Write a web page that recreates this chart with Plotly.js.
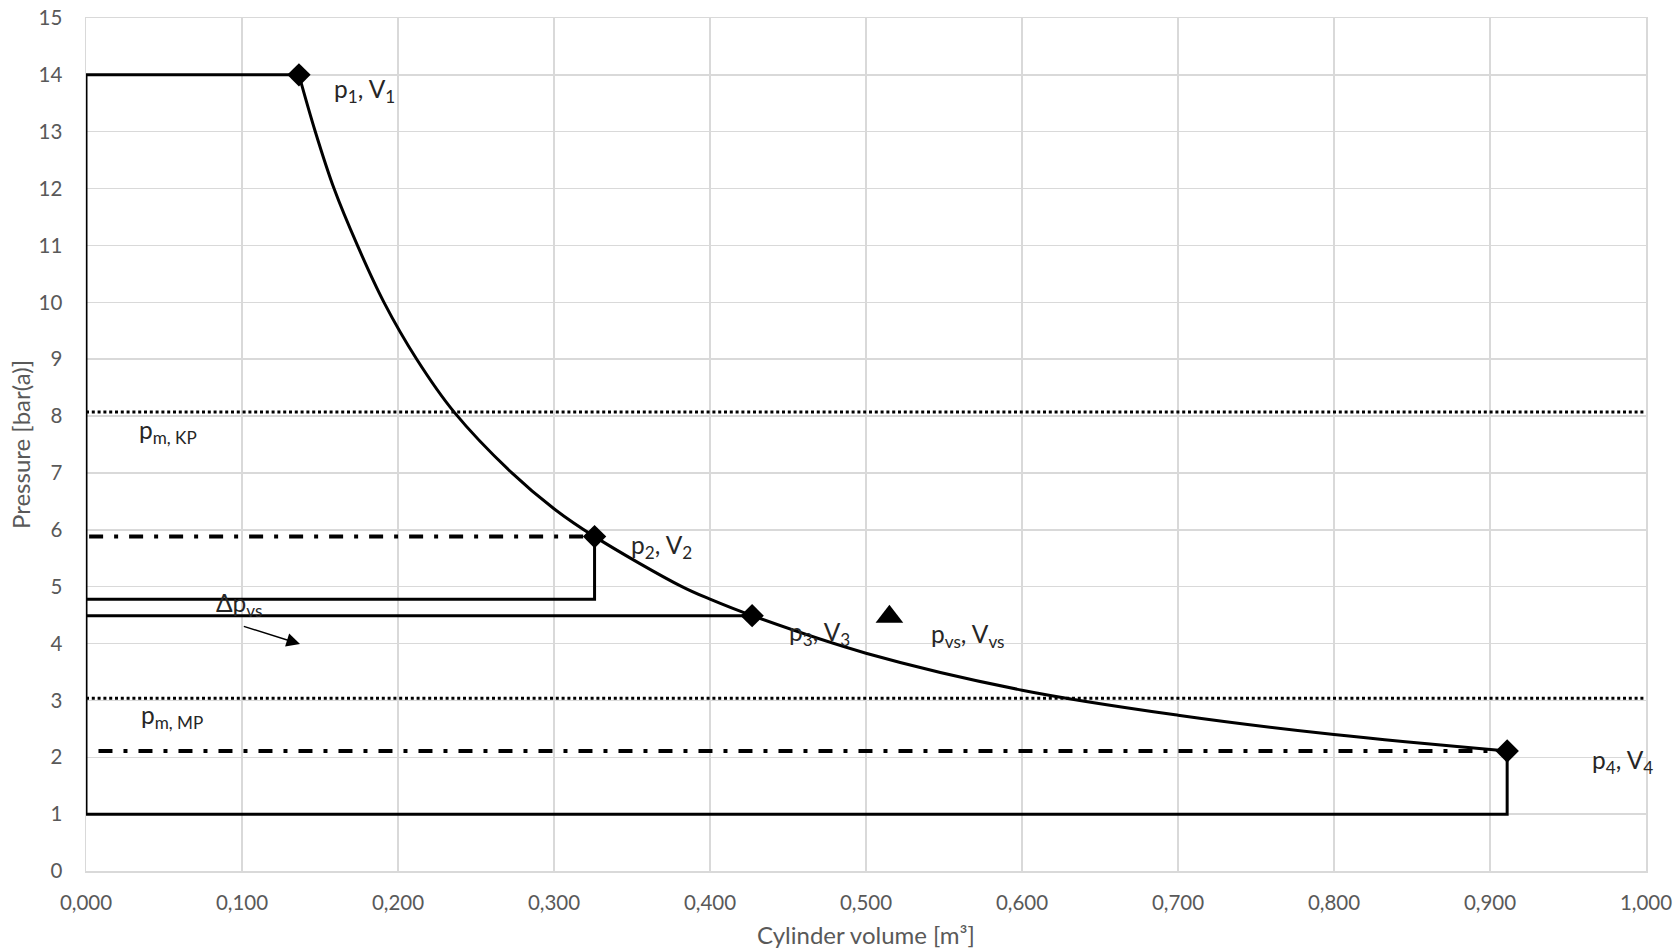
<!DOCTYPE html>
<html>
<head>
<meta charset="utf-8">
<script src="https://cdn.plot.ly/plotly-3.0.1.min.js"></script>
<style>html,body{margin:0;padding:0;background:#fff;}#chart{width:1674px;height:949px;}</style>
</head>
<body>
<div id="chart"></div>
<script>
// Expansion curve
const curveV = [0.1365, 0.147, 0.159, 0.174, 0.191, 0.212, 0.236, 0.273, 0.300, 0.326, 0.382, 0.400, 0.427, 0.500, 0.600, 0.700, 0.800, 0.911];
const curveP = [14.0, 13.0, 12.0, 11.0, 10.0, 9.0, 8.07, 7.0, 6.37, 5.88, 5.0, 4.78, 4.49, 3.83, 3.18, 2.74, 2.40, 2.11];

// State points p1..p4
const stateV = [0.1365, 0.326, 0.427, 0.911];
const stateP = [14.0, 5.88, 4.49, 2.11];

// Valve-switch point
const vsV = [0.515];
const vsP = [4.47];

// Reference pressures
const pLow = 1.0;
const pStep2 = 4.78;
const pmKP = 8.07;
const pmMP = 3.04;
const dashStart2 = 0.002;
const dashStart4 = 0.008;

// Labels
const labelText = ["p<sub>1</sub>, V<sub>1</sub>", "p<sub>2</sub>, V<sub>2</sub>", "p<sub>3</sub>, V<sub>3</sub>",
  "p<sub>vs</sub>, V<sub>vs</sub>", "p<sub>4</sub>, V<sub>4</sub>", "p<sub>m, KP</sub>", "p<sub>m, MP</sub>", "Δp<sub>vs</sub>"];
const labelV = [0.1575, 0.3478, 0.4493, 0.5401, 0.964, 0.0330, 0.0340, 0.0820];
const labelP = [13.72, 5.70, 4.17, 4.14, 1.92, 7.72, 2.71, 4.68];

// Arrow (Δp_vs)
const arrowFromV = 0.1002, arrowFromP = 4.31;
const arrowToV = 0.1372, arrowToP = 3.99;

// Axes
const xTicks = [0, 0.1, 0.2, 0.3, 0.4, 0.5, 0.6, 0.7, 0.8, 0.9, 1.0];
const yTicks = [0,1,2,3,4,5,6,7,8,9,10,11,12,13,14,15];

const V1 = stateV[0], V2 = stateV[1], V3 = stateV[2], V4 = stateV[3];
const P1 = stateP[0], P2 = stateP[1], P3 = stateP[2], P4 = stateP[3];

const blk = '#000000';
const traces = [
  {x: [V1, 0, 0, V4, V4], y: [P1, P1, pLow, pLow, P4], mode: 'lines', line: {color: blk, width: 3}, hoverinfo: 'skip'},
  {x: [0, V2, V2], y: [pStep2, pStep2, P2], mode: 'lines', line: {color: blk, width: 3}, hoverinfo: 'skip'},
  {x: [0, V3], y: [P3, P3], mode: 'lines', line: {color: blk, width: 3}, hoverinfo: 'skip'},
  {x: [dashStart2, V2], y: [P2, P2], mode: 'lines', line: {color: blk, width: 4, dash: '14px,11px,4px,11px'}, hoverinfo: 'skip'},
  {x: [dashStart4, V4], y: [P4, P4], mode: 'lines', line: {color: blk, width: 4, dash: '14px,11px,4px,11px'}, hoverinfo: 'skip'},
  {x: [0, 1], y: [pmKP, pmKP], mode: 'lines', line: {color: blk, width: 3, dash: '3px,2.8px'}, hoverinfo: 'skip'},
  {x: [0, 1], y: [pmMP, pmMP], mode: 'lines', line: {color: blk, width: 3, dash: '3px,2.8px'}, hoverinfo: 'skip'},
  {x: curveV, y: curveP, mode: 'lines', line: {color: blk, width: 3, shape: 'spline', smoothing: 1.0}, hoverinfo: 'skip'},
  {x: stateV, y: stateP, mode: 'markers', marker: {symbol: 'diamond', size: 18, color: blk}, hoverinfo: 'skip'},
  {x: vsV, y: vsP, mode: 'markers', marker: {symbol: 'triangle-up', size: 24, color: blk}, hoverinfo: 'skip'}
];

const annotations = labelText.map((t, i) => ({
  x: labelV[i], y: labelP[i], xref: 'x', yref: 'y', text: t, showarrow: false,
  xanchor: 'left', yanchor: 'middle', font: {family: 'Lato, sans-serif', size: 24.5, color: '#262626'}
}));
annotations.push({
  x: arrowToV, y: arrowToP, ax: arrowFromV, ay: arrowFromP, xref: 'x', yref: 'y', axref: 'x', ayref: 'y',
  text: '', showarrow: true, arrowhead: 2, arrowsize: 1.8, arrowwidth: 1.5, arrowcolor: '#000', standoff: 0
});

const tickFont = {family: 'Lato, sans-serif', size: 20.5, color: '#595959'};
const titleFont = {family: 'Lato, sans-serif', size: 24, color: '#595959'};
const layout = {
  width: 1674, height: 949,
  margin: {l: 86, r: 28, t: 18, b: 78},
  paper_bgcolor: '#ffffff', plot_bgcolor: '#ffffff',
  showlegend: false,
  separators: ', ',
  xaxis: {
    range: [0, 1], tickvals: xTicks, tickformat: '.3f', showgrid: true, gridcolor: '#d9d9d9', gridwidth: 1.5,
    zeroline: false, showline: true, linecolor: '#d9d9d9', linewidth: 1.5, mirror: true,
    ticks: '', tickfont: tickFont, ticklabelstandoff: 13,
    title: {text: 'Cylinder volume [m³]', font: titleFont, standoff: 14}
  },
  yaxis: {
    range: [0, 15], tickvals: yTicks, showgrid: true, gridcolor: '#d9d9d9', gridwidth: 1.5,
    zeroline: false, showline: true, linecolor: '#d9d9d9', linewidth: 1.5, mirror: true,
    ticks: '', tickfont: tickFont, ticklabelstandoff: 18,
    title: {text: 'Pressure [bar(a)]', font: titleFont, standoff: 1}
  },
  annotations: annotations
};

Plotly.newPlot('chart', traces, layout, {displayModeBar: false, staticPlot: true});
</script>
</body>
</html>
